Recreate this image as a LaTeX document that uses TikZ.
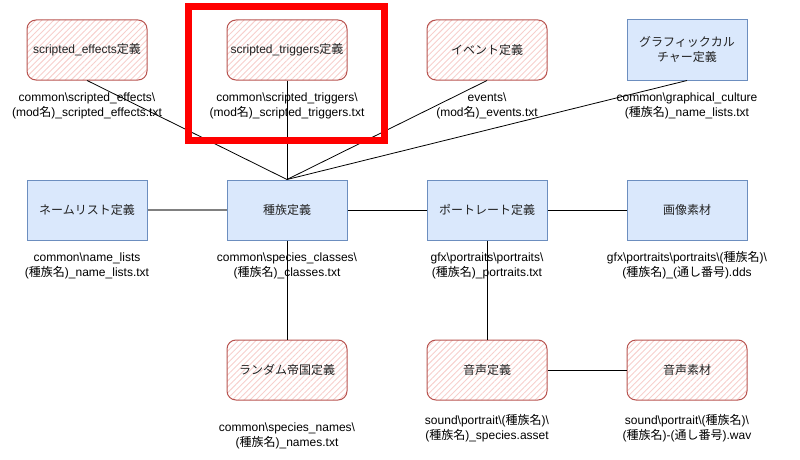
\documentclass[tikz,border=0pt]{standalone}
\usepackage{fontspec}
\setmainfont{Liberation Sans}
\newfontfamily\jpfont{Noto Sans CJK JP}
\usetikzlibrary{patterns.meta}
\newcommand\jpt[1]{{\jpfont #1}}
\definecolor{redstroke}{HTML}{B85450}
\definecolor{redhatch}{HTML}{F7CFCC}
\definecolor{bluefill}{HTML}{DAE8FC}
\definecolor{bluestroke}{HTML}{6C8EBF}
\definecolor{boxtext}{HTML}{222222}
\tikzset{
  base/.style={minimum width=120pt, minimum height=60pt, inner sep=0pt, align=center,
    text=boxtext, font=\fontsize{12pt}{15pt}\selectfont},
  redbox/.style={base, draw=redstroke, line width=1pt, rounded corners=9pt,
    pattern={Lines[angle=45,distance=4.2pt,line width=0.9pt]}, pattern color=redhatch},
  bluebox/.style={base, draw=bluestroke, line width=1pt, fill=bluefill},
  lbl/.style={align=center, inner sep=0pt, font=\fontsize{12pt}{15pt}\selectfont},
  conn/.style={draw=black, line width=0.8pt},
}
\begin{document}
\begin{tikzpicture}[x=1pt,y=-1pt]
\useasboundingbox (0,0) rectangle (800,460);
% boxes
\node[redbox] (se) at (87,50) {scripted\_effects\jpt{定義}};
\node[redbox] (st) at (287,50) {scripted\_triggers\jpt{定義}};
\node[redbox] (ev) at (487,50) {\jpt{イベント定義}};
\node[bluebox] (gc) at (687,50) {\jpt{グラフィックカル}\\\jpt{チャー定義}};
\node[bluebox] (nl) at (87,210) {\jpt{ネームリスト定義}};
\node[bluebox] (sp) at (287,210) {\jpt{種族定義}};
\node[bluebox] (pt) at (487,210) {\jpt{ポートレート定義}};
\node[bluebox] (im) at (687,210) {\jpt{画像素材}};
\node[redbox] (re) at (287,370) {\jpt{ランダム帝国定義}};
\node[redbox] (sd) at (487,370) {\jpt{音声定義}};
\node[redbox] (sm) at (687,370) {\jpt{音声素材}};
% labels
\node[lbl] (lse) at (87,105.5) {common\textbackslash scripted\_effects\textbackslash\\(mod\jpt{名})\_scripted\_effects.txt};
\node[lbl] (lst) at (287,105.5) {common\textbackslash scripted\_triggers\textbackslash\\(mod\jpt{名})\_scripted\_triggers.txt};
\node[lbl] (lev) at (487,105.5) {events\textbackslash\\(mod\jpt{名})\_events.txt};
\node[lbl] (lgc) at (687,105.5) {common\textbackslash graphical\_culture\\(\jpt{種族名})\_name\_lists.txt};
\node[lbl] (lnl) at (87,265.5) {common\textbackslash name\_lists\\(\jpt{種族名})\_name\_lists.txt};
\node[lbl] (lsp) at (287,265.5) {common\textbackslash species\_classes\textbackslash\\(\jpt{種族名})\_classes.txt};
\node[lbl] (lpt) at (487,265.5) {gfx\textbackslash portraits\textbackslash portraits\textbackslash\\(\jpt{種族名})\_portraits.txt};
\node[lbl] (lim) at (687,265.5) {gfx\textbackslash portraits\textbackslash portraits\textbackslash(\jpt{種族名})\textbackslash\\(\jpt{種族名})\_(\jpt{通し番号}).dds};
\node[lbl] (lre) at (287,435.5) {common\textbackslash species\_names\textbackslash\\(\jpt{種族名})\_names.txt};
\node[lbl] (lsd) at (487,428.5) {sound\textbackslash portrait\textbackslash(\jpt{種族名})\textbackslash\\(\jpt{種族名})\_species.asset};
\node[lbl] (lsm) at (687,428.5) {sound\textbackslash portrait\textbackslash(\jpt{種族名})\textbackslash\\(\jpt{種族名})-(\jpt{通し番号}).wav};
% connectors
\draw[conn] (se.south) -- (sp.north);
\draw[conn] (st.south) -- (sp.north);
\draw[conn] (ev.south) -- (sp.north);
\draw[conn] (gc.south) -- (sp.north);
\draw[draw=gray, line width=2pt] (nl.east) -- (sp.west);
\draw[conn] (sp.east) -- (pt.west);
\draw[conn] (pt.east) -- (im.west);
\draw[conn] (sp.south) -- (re.north);
\draw[conn] (pt.south) -- (sd.north);
\draw[conn] (sd.east) -- (sm.west);
% highlight
\node[draw=red, line width=7pt, minimum width=196pt, minimum height=134pt, inner sep=0pt] (hl) at (286.5,73.5) {};
\end{tikzpicture}
\end{document}
